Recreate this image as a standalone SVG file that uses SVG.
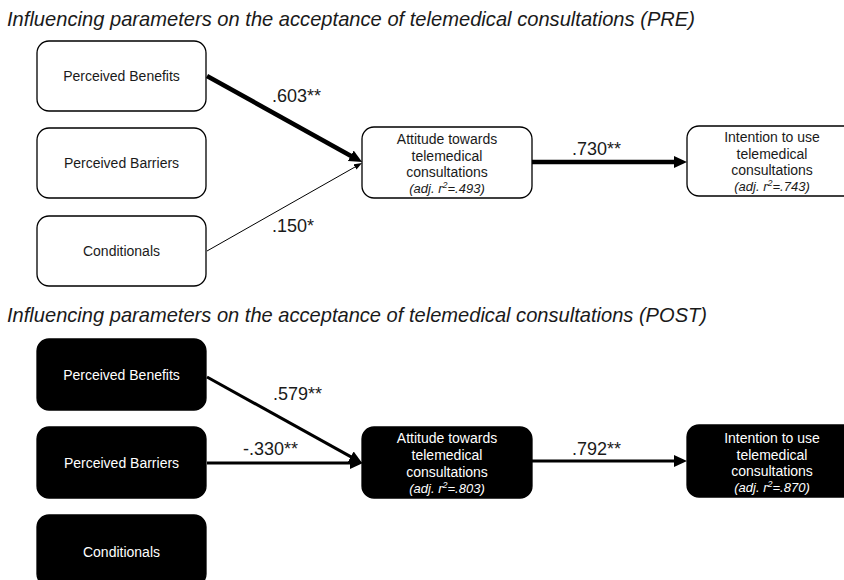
<svg xmlns="http://www.w3.org/2000/svg" width="844" height="580" viewBox="0 0 844 580">
<style>
  text { font-family: "Liberation Sans", Arial, sans-serif; }
  .title { font-size: 21px; font-style: italic; fill: #1a1a1a; }
  .lbl { font-size: 14px; text-anchor: middle; }
  .adj { font-size: 13px; font-style: italic; }
  .sup { font-size: 9px; }
  .w rect { fill: #ffffff; stroke: #000000; stroke-width: 1.3; }
  .w text { fill: #1a1a1a; }
  .b rect { fill: #000000; stroke: #000000; stroke-width: 1.3; }
  .b text { fill: #ffffff; }
  .coef { font-size: 18px; fill: #1a1a1a; }
  .edge { fill: none; stroke: #000000; }
</style>
<defs>
  <marker id="ahBig" markerUnits="userSpaceOnUse" markerWidth="14" markerHeight="13" refX="6" refY="6" orient="auto">
    <path d="M0,0 L13,6 L0,12 z" fill="#000000"/>
  </marker>
  <marker id="ahSmall" markerUnits="userSpaceOnUse" markerWidth="9" markerHeight="7" refX="4" refY="3" orient="auto">
    <path d="M0,0 L8,3 L0,6 z" fill="#000000"/>
  </marker>
</defs>
<rect x="0" y="0" width="844" height="580" fill="#ffffff"/>

<text class="title" x="7" y="26" textLength="688" lengthAdjust="spacingAndGlyphs">Influencing parameters on the acceptance of telemedical consultations (PRE)</text>
<text class="title" x="7" y="322" textLength="700" lengthAdjust="spacingAndGlyphs">Influencing parameters on the acceptance of telemedical consultations (POST)</text>

<g id="connectors">
  <line class="edge" x1="207" y1="76" x2="356" y2="158.7" stroke-width="4.5" marker-end="url(#ahBig)"/>
  <line class="edge" x1="207" y1="251" x2="358.5" y2="165" stroke-width="1" marker-end="url(#ahSmall)"/>
  <line class="edge" x1="532" y1="162" x2="680" y2="162" stroke-width="4.5" marker-end="url(#ahBig)"/>
  <line class="edge" x1="207" y1="377" x2="356" y2="459.6" stroke-width="3" marker-end="url(#ahBig)"/>
  <line class="edge" x1="207" y1="463" x2="356" y2="463" stroke-width="3" marker-end="url(#ahBig)"/>
  <line class="edge" x1="532" y1="461" x2="680" y2="461" stroke-width="3" marker-end="url(#ahBig)"/>
  <text class="coef" x="272" y="102">.603**</text>
  <text class="coef" x="272" y="232">.150*</text>
  <text class="coef" x="572" y="155">.730**</text>
  <text class="coef" x="273" y="400">.579**</text>
  <text class="coef" x="243" y="455">-.330**</text>
  <text class="coef" x="572" y="455">.792**</text>
</g>

<g id="pre-benefits" class="w">
  <rect x="37" y="41" width="169" height="70" rx="12"/>
  <text class="lbl" x="121.5" y="81">Perceived Benefits</text>
</g>
<g id="pre-barriers" class="w">
  <rect x="37" y="128" width="169" height="70" rx="12"/>
  <text class="lbl" x="121.5" y="168">Perceived Barriers</text>
</g>
<g id="pre-conditionals" class="w">
  <rect x="37" y="216" width="169" height="70" rx="12"/>
  <text class="lbl" x="121.5" y="256">Conditionals</text>
</g>
<g id="pre-attitude" class="w">
  <rect x="362" y="127" width="170" height="71" rx="12"/>
  <text class="lbl" x="447" y="144">Attitude towards</text>
  <text class="lbl" x="447" y="160.5">telemedical</text>
  <text class="lbl" x="447" y="177">consultations</text>
  <text class="lbl adj" x="447" y="193">(adj. r<tspan class="sup" dy="-5">2</tspan><tspan dy="5">=.493)</tspan></text>
</g>
<g id="pre-intention" class="w">
  <rect x="687" y="126" width="170" height="70" rx="12"/>
  <text class="lbl" x="772" y="142">Intention to use</text>
  <text class="lbl" x="772" y="158.5">telemedical</text>
  <text class="lbl" x="772" y="175">consultations</text>
  <text class="lbl adj" x="772" y="191">(adj. r<tspan class="sup" dy="-5">2</tspan><tspan dy="5">=.743)</tspan></text>
</g>

<g id="post-benefits" class="b">
  <rect x="37" y="339" width="169" height="71" rx="12"/>
  <text class="lbl" x="121.5" y="380">Perceived Benefits</text>
</g>
<g id="post-barriers" class="b">
  <rect x="37" y="427" width="169" height="71" rx="12"/>
  <text class="lbl" x="121.5" y="468">Perceived Barriers</text>
</g>
<g id="post-conditionals" class="b">
  <rect x="37" y="515" width="169" height="71" rx="12"/>
  <text class="lbl" x="121.5" y="557">Conditionals</text>
</g>
<g id="post-attitude" class="b">
  <rect x="362" y="427" width="170" height="71" rx="12"/>
  <text class="lbl" x="447" y="443">Attitude towards</text>
  <text class="lbl" x="447" y="460">telemedical</text>
  <text class="lbl" x="447" y="477">consultations</text>
  <text class="lbl adj" x="447" y="493">(adj. r<tspan class="sup" dy="-5">2</tspan><tspan dy="5">=.803)</tspan></text>
</g>
<g id="post-intention" class="b">
  <rect x="687" y="425" width="170" height="72" rx="12"/>
  <text class="lbl" x="772" y="443">Intention to use</text>
  <text class="lbl" x="772" y="459.5">telemedical</text>
  <text class="lbl" x="772" y="476">consultations</text>
  <text class="lbl adj" x="772" y="492">(adj. r<tspan class="sup" dy="-5">2</tspan><tspan dy="5">=.870)</tspan></text>
</g>
</svg>
